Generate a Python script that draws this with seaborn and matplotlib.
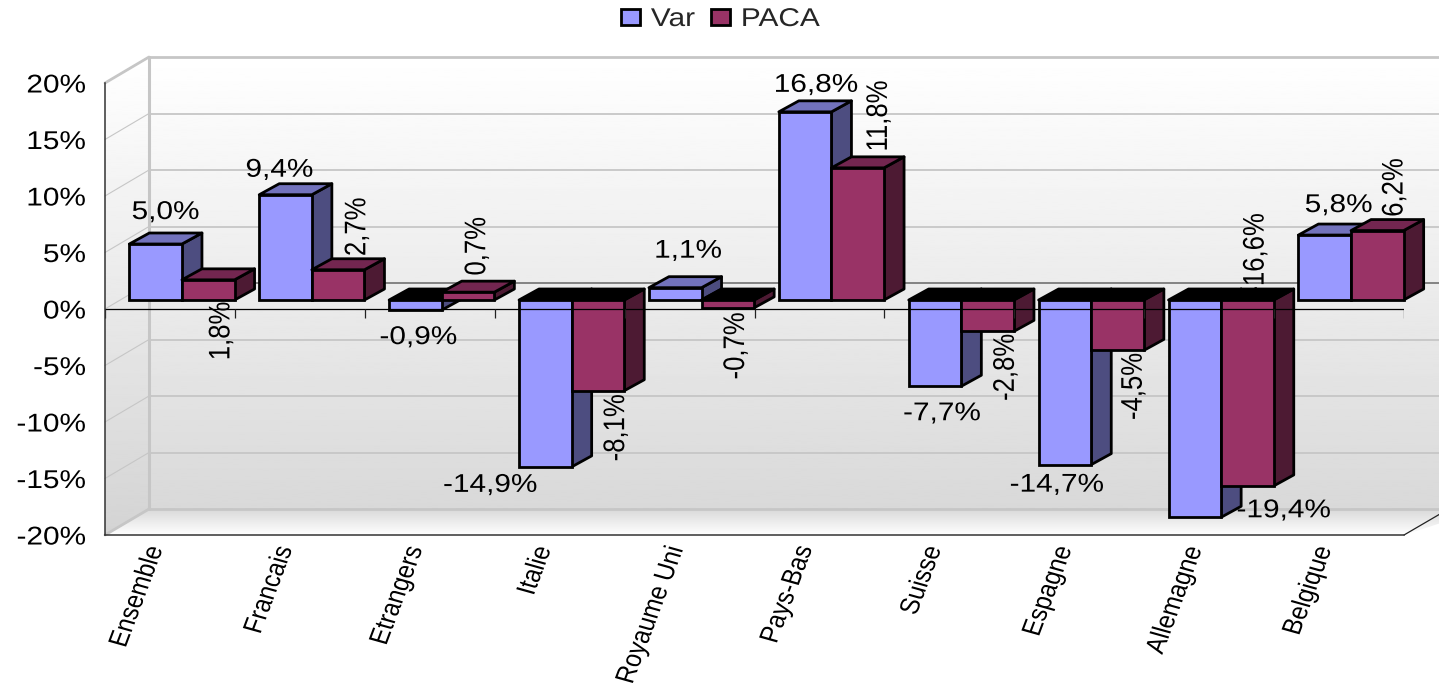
import numpy as np
import pandas as pd
import matplotlib.pyplot as plt
import seaborn as sns

from matplotlib.patches import Polygon
from matplotlib.patheffects import AbstractPathEffect
from matplotlib.transforms import Affine2D

categories = ["Ensemble", "Francais", "Etrangers", "Italie", "Royaume Uni",
              "Pays-Bas", "Suisse", "Espagne", "Allemagne", "Belgique"]
var_values = [5.0, 9.4, -0.9, -14.9, 1.1, 16.8, -7.7, -14.7, -19.4, 5.8]
paca_values = [1.8, 2.7, 0.7, -8.1, -0.7, 11.8, -2.8, -4.5, -16.6, 6.2]
y_ticks = [20, 15, 10, 5, 0, -5, -10, -15, -20]

# label offsets from the end of each bar, in pixels
var_offsets = [(10, 32), (-6, 25), (3, -27), (-55, -18), (13, 37),
               (11, 27), (7, -27), (-8, -20), (89, 7), (14, 30)]
paca_offsets = [(13, -51), (19, 43), (9, 46), (18, -37), (8, -38),
                (21, 52), (18, -36), (16, -36), (8, 232), (17, 43)]

W, H = 1439, 685
FONT = 18.5
XFONT = 17
STRETCH = 1.16
LW = 2.0

VAR_COLORS = ("#9999FF", "#7272BC", "#4D4D80")
PACA_COLORS = ("#993366", "#732650", "#4D1A33")


class StretchX(AbstractPathEffect):
    # the reference was widened after rendering, so widen the glyphs the same way
    def __init__(self, sx=STRETCH, anchor="center", shift=0):
        super().__init__()
        self.sx = sx
        self.anchor = anchor
        self.shift = shift

    def draw_path(self, renderer, gc, tpath, affine, rgbFace=None):
        box = tpath.get_extents(affine)
        x0 = {"center": (box.x0 + box.x1) / 2, "right": box.x1, "left": box.x0}[self.anchor]
        new = affine + Affine2D().translate(-x0, 0).scale(self.sx, 1).translate(x0 + self.shift, 0)
        renderer.draw_path(gc, tpath, new, rgbFace)


def px_rect(left, top, right, bottom):
    return [left / W, 1 - bottom / H, (right - left) / W, (bottom - top) / H]


def gradient(ax, poly, top, bottom, c_top, c_bottom):
    g = np.linspace(c_top, c_bottom, 256).reshape(-1, 1)
    im = ax.imshow(g, cmap="gray", vmin=0, vmax=1, aspect="auto", zorder=1,
                   extent=(0, W + 60, bottom, top))
    clip = Polygon(poly, closed=True, transform=ax.transData, fc="none", ec="none")
    ax.add_patch(clip)
    im.set_clip_path(clip)


def draw_walls(ax):
    sc = 11.3
    back0, back_x, front_x = 283, 149, 105
    wall_line = "#C6C6C6"
    right = W + 5
    gradient(ax, [(back_x, 57), (right, 57), (right, 509), (back_x, 509)], 57, 509, 1.0, 0.85)
    gradient(ax, [(front_x, 83), (back_x, 57), (back_x, 509), (front_x, 535)], 57, 535, 1.0, 0.83)
    gradient(ax, [(back_x, 509), (right + 40, 509), (1404, 535), (front_x, 535)], 509, 535, 0.85, 1.0)
    for v in y_ticks:
        y = back0 - sc * v
        ax.plot([front_x, back_x], [y + 26, y], color=wall_line, lw=0.8, zorder=2)
        if abs(v) == 20:
            continue
        col = "#7A7A7A" if v == 0 else wall_line
        ax.plot([back_x, right], [y, y], color=col, lw=1.3, zorder=2)
    ax.plot([back_x, right], [57, 57], color=wall_line, lw=2, zorder=3)
    ax.plot([back_x, right], [509, 509], color=wall_line, lw=2, zorder=3)
    ax.plot([back_x, back_x], [57, 509], color=wall_line, lw=2.2, zorder=3)
    ax.plot([front_x, back_x], [83, 57], color=wall_line, lw=2, zorder=3)
    ax.plot([front_x, back_x], [535, 509], color=wall_line, lw=2, zorder=3)
    ax.plot([1404, 1440], [535, 514], color="#222222", lw=0.9, zorder=3)


def add_depth(ax, bar, colors, order):
    dx, dy = 20 / 129.9, 11 / 11.2
    x0, x1 = bar.get_x(), bar.get_x() + bar.get_width()
    v = bar.get_height() + bar.get_y()
    hi, lo = max(v, 0), min(v, 0)
    top_col = colors[1] if v > 0 else "black"
    top = [(x0, hi), (x0 + dx, hi + dy), (x1 + dx, hi + dy), (x1, hi)]
    side = [(x1, hi), (x1 + dx, hi + dy), (x1 + dx, lo + dy), (x1, lo)]
    for pts, col in ((side, colors[2]), (top, top_col)):
        ax.add_patch(Polygon(pts, closed=True, fc=col, ec="black", lw=LW,
                             joinstyle="round", clip_on=False, zorder=order))
    bar.set_zorder(order + 0.5)
    bar.set_clip_on(False)


def main():
    sns.set_style("white")
    plt.rcParams["font.family"] = ["Liberation Sans", "DejaVu Sans"]
    plt.rcParams["font.size"] = FONT

    fig = plt.figure(figsize=(W / 100, H / 100), dpi=100, facecolor="white")

    bg = fig.add_axes([0, 0, 1, 1], zorder=0)
    bg.set_xlim(0, W)
    bg.set_ylim(H, 0)
    bg.axis("off")
    draw_walls(bg)
    bg.set_xlim(0, W)
    bg.set_ylim(H, 0)

    df = pd.DataFrame({
        "categorie": categories * 2,
        "valeur": var_values + paca_values,
        "zone": ["Var"] * len(categories) + ["PACA"] * len(categories),
    })

    ax_bars = fig.add_axes(px_rect(117, 76, 1416, 524), zorder=1)
    sns.barplot(data=df, x="categorie", y="valeur", hue="zone", hue_order=["Var", "PACA"],
                palette={"Var": VAR_COLORS[0], "PACA": PACA_COLORS[0]}, order=categories,
                width=0.81, gap=0, saturation=1, errorbar=None, edgecolor="black",
                linewidth=LW, ax=ax_bars)
    ax_bars.set_xlim(-0.5, 9.5)
    ax_bars.set_ylim(-20, 20)
    ax_bars.patch.set_alpha(0)
    ax_bars.set_xlabel("")
    ax_bars.set_ylabel("")
    ax_bars.set_xticks([])
    ax_bars.set_yticks([])
    sns.despine(ax=ax_bars, left=True, bottom=True)

    for c, colors, values, offsets, rot in (
        (ax_bars.containers[0], VAR_COLORS, var_values, var_offsets, 0),
        (ax_bars.containers[1], PACA_COLORS, paca_values, paca_offsets, 90),
    ):
        for i, bar in enumerate(c.patches):
            order = 2 + i + (0.6 if rot else 0)
            add_depth(ax_bars, bar, colors, order)
            ax_bars.annotate(f"{values[i]:.1f}%".replace(".", ","),
                             xy=(bar.get_x() + bar.get_width() / 2, values[i]),
                             xytext=offsets[i], textcoords="offset pixels",
                             ha="center", va="center", rotation=rot, fontsize=FONT,
                             color="black", zorder=20, annotation_clip=False,
                             path_effects=[StretchX()])

    sns.move_legend(ax_bars, "center", bbox_to_anchor=(715 / W, 1 - 19 / H),
                    bbox_transform=fig.transFigure, ncols=2, frameon=False, title=None,
                    fontsize=FONT, handlelength=0.74, handleheight=0.55,
                    handletextpad=0.43, columnspacing=0.86, borderpad=0, borderaxespad=0)
    for t in ax_bars.get_legend().get_texts():
        t.set_path_effects([StretchX(anchor="left")])

    # front plane: axis lines, ticks and tick labels
    ax = fig.add_axes(px_rect(105, 83, 1404, 535), zorder=2)
    ax.patch.set_alpha(0)
    ax.set_xlim(-0.5, 9.5)
    ax.set_ylim(-20, 20)
    sns.despine(ax=ax)
    for s in ("left", "bottom"):
        ax.spines[s].set_linewidth(1.1)
        ax.spines[s].set_color("#333333")
    ax.set_yticks(y_ticks, labels=[f"{v}%" for v in y_ticks], fontsize=FONT, color="black")
    ax.tick_params(axis="y", length=7.2, width=0.9, pad=6.5, color="#333333")
    ax.set_xticks(range(len(categories)), labels=categories, rotation=72, ha="right", va="top",
                  rotation_mode="anchor", fontsize=XFONT, color="black")
    bounds = np.arange(len(categories) + 1) - 0.5
    ax.set_xticks(bounds, minor=True)
    ax.tick_params(axis="x", which="major", length=0, pad=6)
    ax.tick_params(axis="x", which="minor", length=6.5, width=0.9, color="#333333")
    ax.axhline(0, color="black", lw=0.9)
    ax.vlines(bounds, -0.8, 0, color="#222222", lw=0.9)
    for t in ax.get_yticklabels():
        t.set_path_effects([StretchX(anchor="right")])
    for t in ax.get_xticklabels():
        t.set_path_effects([StretchX(shift=-27)])

    fig.savefig("out.png", dpi=100)
    plt.close(fig)


if __name__ == "__main__":
    main()
